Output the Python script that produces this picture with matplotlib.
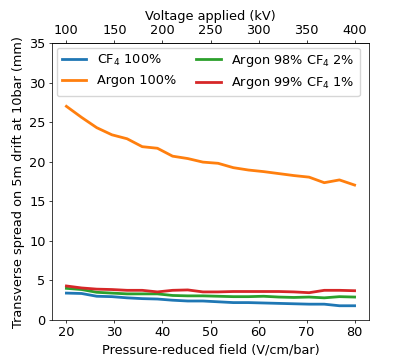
import numpy as np
import matplotlib
matplotlib.use("Agg")
import matplotlib.pyplot as plt

field = np.linspace(20, 80, 20)
cf4_100 = [3.4, 3.35, 3.0, 2.95, 2.8, 2.7, 2.65, 2.5, 2.4, 2.4, 2.3, 2.2, 2.2, 2.15, 2.1, 2.05, 2.0, 2.0, 1.8, 1.8]
argon_100 = [27.0, 25.6, 24.3, 23.4, 22.9, 21.9, 21.7, 20.7, 20.4, 19.95, 19.8, 19.25, 18.95, 18.75, 18.5, 18.25, 18.05, 17.35, 17.7, 17.05]
argon_98 = [4.0, 3.85, 3.5, 3.4, 3.3, 3.3, 3.3, 3.1, 3.05, 3.05, 3.0, 2.95, 2.95, 3.0, 2.9, 2.85, 2.9, 2.8, 2.95, 2.9]
argon_99 = [4.3, 4.05, 3.9, 3.85, 3.75, 3.75, 3.55, 3.75, 3.8, 3.55, 3.55, 3.6, 3.6, 3.6, 3.6, 3.55, 3.45, 3.75, 3.75, 3.7]
voltage_ticks = [100, 150, 200, 250, 300, 350, 400]
labels = ["CF$_4$ 100%", "Argon 100%", "Argon 98% CF$_4$ 2%", "Argon 99% CF$_4$ 1%"]

s = 0.66
plt.rcParams.update({
    'font.size': 9.3,
    'xtick.major.size': 3.5 * s, 'ytick.major.size': 3.5 * s,
    'xtick.major.pad': 3.5 * s, 'ytick.major.pad': 3.5 * s,
    'xtick.major.width': 0.8 * s, 'ytick.major.width': 0.8 * s,
    'axes.linewidth': 0.8 * s,
    'axes.labelpad': 4 * s,
    'legend.frameon': True,
})

fig = plt.figure(figsize=(4.11, 3.6), dpi=100)
ax = fig.add_axes([52/411, 40/360, 317/411, 277/360])
for ys, lab in zip([cf4_100, argon_100, argon_98, argon_99], labels):
    ax.plot(field, ys, lw=2, label=lab)
ax.set_ylim(0, 35)
ax.set_xlabel("Pressure-reduced field (V/cm/bar)")
ax.set_ylabel("Transverse spread on 5m drift at 10bar (mm)")
ax.legend(ncol=2, loc="upper left", handlelength=1.9, columnspacing=1.6,
          borderaxespad=0.35, framealpha=0.8)
sec = ax.secondary_xaxis('top', functions=(lambda x: x * 5, lambda x: x / 5))
sec.set_xticks(voltage_ticks)
sec.set_xlabel("Voltage applied (kV)")
fig.savefig("out.png", dpi=100)
